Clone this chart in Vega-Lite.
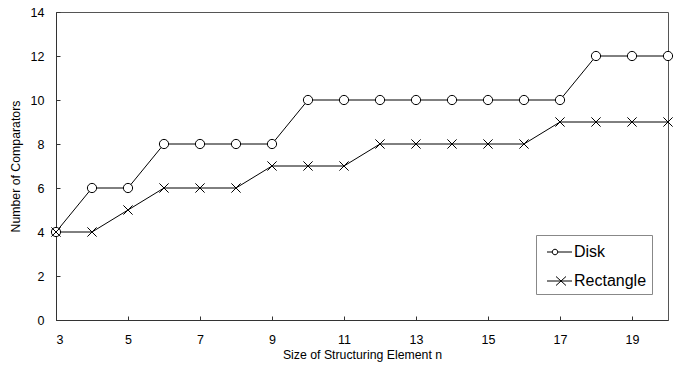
{
  "$schema": "https://vega.github.io/schema/vega-lite/v6.json",
  "autosize": {"type": "none"},
  "width": 612,
  "height": 308,
  "padding": {"left": 56, "top": 12, "right": 14, "bottom": 52},
  "background": "white",
  "config": {
    "font": "Liberation Sans",
    "view": {"stroke": "#555555", "strokeWidth": 1},
    "axis": {
      "grid": false,
      "domainColor": "#333333",
      "tickColor": "#333333",
      "labelFont": "Liberation Sans",
      "titleFont": "Liberation Sans",
      "labelFontSize": 12.5,
      "titleFontSize": 12.3,
      "labelColor": "black",
      "titleColor": "black",
      "titleFontWeight": "normal"
    }
  },
  "data": {
    "values": [
      {"n": 3, "series": "Disk", "value": 4},
      {"n": 4, "series": "Disk", "value": 6},
      {"n": 5, "series": "Disk", "value": 6},
      {"n": 6, "series": "Disk", "value": 8},
      {"n": 7, "series": "Disk", "value": 8},
      {"n": 8, "series": "Disk", "value": 8},
      {"n": 9, "series": "Disk", "value": 8},
      {"n": 10, "series": "Disk", "value": 10},
      {"n": 11, "series": "Disk", "value": 10},
      {"n": 12, "series": "Disk", "value": 10},
      {"n": 13, "series": "Disk", "value": 10},
      {"n": 14, "series": "Disk", "value": 10},
      {"n": 15, "series": "Disk", "value": 10},
      {"n": 16, "series": "Disk", "value": 10},
      {"n": 17, "series": "Disk", "value": 10},
      {"n": 18, "series": "Disk", "value": 12},
      {"n": 19, "series": "Disk", "value": 12},
      {"n": 20, "series": "Disk", "value": 12},
      {"n": 3, "series": "Rectangle", "value": 4},
      {"n": 4, "series": "Rectangle", "value": 4},
      {"n": 5, "series": "Rectangle", "value": 5},
      {"n": 6, "series": "Rectangle", "value": 6},
      {"n": 7, "series": "Rectangle", "value": 6},
      {"n": 8, "series": "Rectangle", "value": 6},
      {"n": 9, "series": "Rectangle", "value": 7},
      {"n": 10, "series": "Rectangle", "value": 7},
      {"n": 11, "series": "Rectangle", "value": 7},
      {"n": 12, "series": "Rectangle", "value": 8},
      {"n": 13, "series": "Rectangle", "value": 8},
      {"n": 14, "series": "Rectangle", "value": 8},
      {"n": 15, "series": "Rectangle", "value": 8},
      {"n": 16, "series": "Rectangle", "value": 8},
      {"n": 17, "series": "Rectangle", "value": 9},
      {"n": 18, "series": "Rectangle", "value": 9},
      {"n": 19, "series": "Rectangle", "value": 9},
      {"n": 20, "series": "Rectangle", "value": 9}
    ]
  },
  "encoding": {
    "x": {
      "field": "n",
      "type": "quantitative",
      "scale": {"domain": [3, 20], "nice": false, "zero": false},
      "axis": {
        "title": "Size of Structuring Element n",
        "values": [3, 5, 7, 9, 11, 13, 15, 17, 19],
        "tickSize": -4,
        "labelPadding": 17,
        "titlePadding": 3
      }
    },
    "y": {
      "field": "value",
      "type": "quantitative",
      "scale": {"domain": [0, 14], "nice": false},
      "axis": {
        "title": "Number of Comparators",
        "values": [0, 2, 4, 6, 8, 10, 12, 14],
        "tickSize": -4,
        "labelPadding": 16,
        "titlePadding": 8
      }
    }
  },
  "layer": [
    {
      "mark": {"type": "line", "color": "black", "strokeWidth": 1},
      "encoding": {
        "detail": {"field": "series", "type": "nominal"}
      }
    },
    {
      "mark": {"type": "point", "filled": true, "fill": "white", "stroke": "black", "strokeWidth": 1, "opacity": 1},
      "encoding": {
        "shape": {
          "field": "series",
          "type": "nominal",
          "scale": {"domain": ["Disk", "Rectangle"], "range": ["circle", "M-1,-1L1,1M-1,1L1,-1"]},
          "legend": null
        },
        "size": {"value": 85}
      }
    },
    {
      "transform": [{"filter": "datum.n > 100"}],
      "mark": {"type": "point", "filled": false, "stroke": "black", "strokeWidth": 1, "opacity": 1},
      "encoding": {
        "shape": {
          "field": "series",
          "type": "nominal",
          "scale": {"domain": ["Disk", "Rectangle"], "range": ["M-2.5,0H-1.45M-0.35,0H2.5M-1.45,0A0.55,0.55 0 1,0 -0.35,0A0.55,0.55 0 1,0 -1.45,0", "M-2.5,0H2.5M-0.7,-0.9L1.3,0.9M-0.7,0.9L1.3,-0.9"]},
          "legend": {
            "title": " ",
            "titleFontSize": 1,
            "titlePadding": 3,
            "orient": "none",
            "legendX": 480,
            "legendY": 223,
            "direction": "vertical",
            "strokeColor": "#888888",
            "fillColor": "white",
            "padding": 5,
            "symbolSize": 100,
            "symbolOffset": 10.5,
            "symbolStrokeWidth": 1,
            "symbolStrokeColor": "black",
            "symbolOpacity": 1,
            "labelFontSize": 16,
            "labelFont": "Liberation Sans",
            "labelColor": "black",
            "labelOffset": 6.5,
            "rowPadding": 13
          }
        },
        "size": {"value": 100}
      }
    }
  ],
  "resolve": {"scale": {"shape": "independent"}, "legend": {"shape": "independent"}}
}
